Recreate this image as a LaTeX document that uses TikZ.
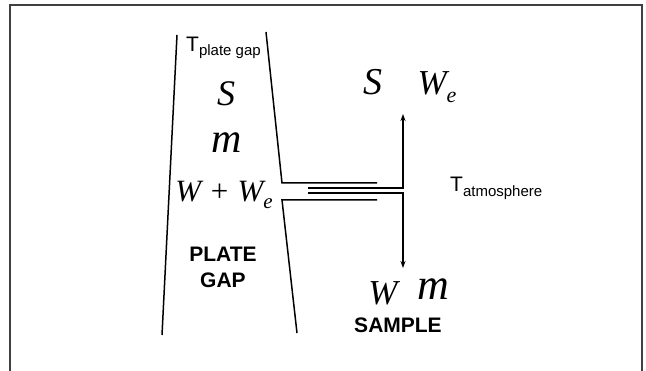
\documentclass[tikz,border=0pt]{standalone}
\usepackage{fontspec}
\setmainfont{Liberation Serif}
\setsansfont{Liberation Sans}
\usetikzlibrary{arrows.meta}
\newcommand{\fs}[1]{\fontsize{#1}{#1}\selectfont}
\tikzset{
  wall/.style={line width=1.5pt, line join=miter},
  flow/.style={-{Stealth[length=7pt,width=5pt]}, line width=1.5pt},
  var/.style={font=\itshape, anchor=base, inner sep=0pt},
  lbl/.style={font=\sffamily\bfseries\fs{21}, anchor=base, inner sep=0pt},
  temp/.style={font=\sffamily\fs{21}, anchor=base west, inner sep=0pt},
}

\begin{document}
\begin{tikzpicture}[x=1pt,y=-1pt]
    \useasboundingbox (0,0) rectangle (646,371);
    \draw[line width=1.8pt, black!75] (10,371) -- (10,5) -- (642,5) -- (642,371);
    % plate gap walls
    \coordinate (wl1) at (177,35);
    \coordinate (wl2) at (162,335);
    \coordinate (wr1) at (266,32);
    \coordinate (wr2) at (282,183);
    \coordinate (wr3) at (282,200);
    \coordinate (wr4) at (297,333);
    \coordinate (ch1) at (377,183);
    \coordinate (ch2) at (377,200);
    \draw[wall] (wl1) -- (wl2);
    \draw[wall] (wr1) -- (wr2) -- (ch1);
    \draw[wall] (wr4) -- (wr3) -- (ch2);
    % inner channel and sample
    \coordinate (in1) at (308,188);
    \coordinate (in2) at (308,193);
    \coordinate (cor1) at (403,188);
    \coordinate (cor2) at (403,193);
    \coordinate (up) at (403,114);
    \coordinate (dn) at (403,268);
    \draw[flow] (in1) -- (cor1) -- (up);
    \draw[flow] (in2) -- (cor2) -- (dn);
    % labels
    \node[temp] (tgap) at (186,52) {T\raisebox{-4pt}{\fs{15}plate gap}};
    \node[var, font=\itshape\fs{36}] (sgap) at (226,106) {S};
    \node[var, font=\itshape\fs{42}] (mgap) at (227,153) {m};
    \node[var, font=\itshape\fs{31}] (wgap) at (224,202) {W + W\raisebox{-7pt}{\fs{21}e}};
    \node[lbl] (plate) at (223,262) {PLATE};
    \node[lbl] (gap) at (223,288) {GAP};
    \node[var, font=\itshape\fs{38}] (sout) at (373,95) {S};
    \node[var, font=\itshape\fs{35}] (weout) at (437,95) {W\raisebox{-8pt}{\fs{22}e}};
    \node[temp] (tatm) at (450,192) {T\raisebox{-5pt}{\fs{15}atmosphere}};
    \node[var, font=\itshape\fs{35}] (win) at (383,305) {W};
    \node[var, font=\itshape\fs{44}] (min) at (433,300) {m};
    \node[lbl] (sample) at (398,333) {SAMPLE};
\end{tikzpicture}
\end{document}
